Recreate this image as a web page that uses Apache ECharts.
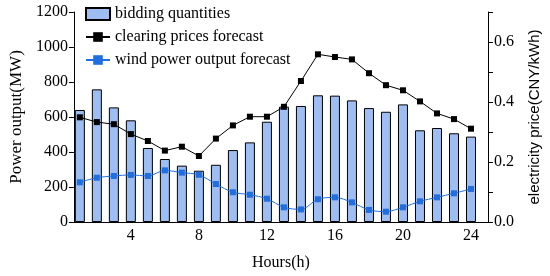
<!DOCTYPE html>
<html>
<head>
<meta charset="utf-8">
<script src="https://cdn.jsdelivr.net/npm/echarts@6/dist/echarts.min.js"></script>
<style>
  html, body { margin: 0; padding: 0; background: #fff; }
  #chart { width: 550px; height: 276px; }
</style>
</head>
<body>
<div id="chart"></div>
<script>
// hours 1..24
const hours = [1, 2, 3, 4, 5, 6, 7, 8, 9, 10, 11, 12, 13, 14, 15, 16, 17, 18, 19, 20, 21, 22, 23, 24]
const hourTicks = [4, 8, 12, 16, 20, 24]

// MW
const biddingQuantities = [640, 758, 655, 581, 423, 360, 322, 293, 327, 411, 455, 573,
  659, 663, 724, 722, 695, 651, 630, 672, 524, 537, 507, 488]
const windForecast = [227, 253, 263, 269, 263, 295, 282, 270, 217, 170, 156, 133,
  84, 72, 130, 141, 112, 69, 59, 84, 118, 141, 164, 189]

// CNY/kWh
const clearingPrices = [0.349, 0.333, 0.326, 0.293, 0.270, 0.238, 0.251, 0.220, 0.278, 0.322, 0.351, 0.351,
  0.384, 0.470, 0.559, 0.550, 0.542, 0.496, 0.456, 0.439, 0.402, 0.362, 0.343, 0.311]
const priceLabels = [0, 0.2, 0.4, 0.6]

const serif = 'Liberation Serif'
const pair = (vals) => hours.map((h, i) => [h, vals[i]])

const chart = echarts.init(document.getElementById('chart'))
chart.setOption({
  animation: false,
  textStyle: { fontFamily: serif },
  grid: { left: 67, right: 59, top: 12, bottom: 54 },
  legend: {
    orient: 'vertical',
    left: 80,
    top: 1,
    itemWidth: 24,
    itemHeight: 12,
    itemGap: 7,
    textStyle: { fontFamily: serif, fontSize: 16, color: '#000' },
    data: [
      { name: 'bidding quantities', icon: 'rect' },
      'clearing prices forecast',
      'wind power output forecast'
    ]
  },
  xAxis: {
    type: 'value',
    min: 0.65,
    max: 25,
    name: 'Hours(h)',
    nameLocation: 'middle',
    nameGap: 33,
    nameTextStyle: { fontFamily: serif, fontSize: 16, color: '#000' },
    splitLine: { show: false },
    axisLine: { lineStyle: { color: '#000', width: 1 } },
    axisTick: { inside: true, length: 3, customValues: hourTicks, lineStyle: { color: '#000' } },
    axisLabel: { customValues: hourTicks, fontSize: 16, color: '#000', margin: 6 }
  },
  yAxis: [
    {
      type: 'value',
      min: 0,
      max: 1200,
      interval: 200,
      name: 'Power output(MW)',
      nameLocation: 'middle',
      nameGap: 41,
      nameTextStyle: { fontFamily: serif, fontSize: 17, color: '#000' },
      splitLine: { show: false },
      axisLine: { show: true, lineStyle: { color: '#000' } },
      axisTick: { show: true, length: 5, lineStyle: { color: '#000' } },
      axisLabel: { formatter: (v) => String(v), fontSize: 16, color: '#000', margin: 6 }
    },
    {
      type: 'value',
      min: 0,
      max: 0.7,
      interval: 0.1,
      name: 'electricity price(CNY/kWh)',
      nameLocation: 'middle',
      nameGap: 39,
      nameTextStyle: { fontFamily: 'Liberation Sans', fontSize: 15, color: '#000' },
      splitLine: { show: false },
      axisLine: { show: true, lineStyle: { color: '#000' } },
      axisTick: { show: true, length: 5, lineStyle: { color: '#000' } },
      axisLabel: {
        customValues: priceLabels,
        formatter: (v) => v.toFixed(1),
        fontSize: 16, color: '#000', margin: 6
      }
    }
  ],
  series: [
    {
      name: 'bidding quantities',
      type: 'bar',
      yAxisIndex: 0,
      barWidth: 10,
      data: pair(biddingQuantities),
      itemStyle: { color: '#9ebdf3', borderColor: '#000', borderWidth: 1 }
    },
    {
      name: 'clearing prices forecast',
      type: 'line',
      yAxisIndex: 1,
      data: pair(clearingPrices),
      symbol: 'rect',
      symbolSize: 6,
      lineStyle: { color: '#000', width: 1 },
      itemStyle: { color: '#000' },
      z: 5
    },
    {
      name: 'wind power output forecast',
      type: 'line',
      yAxisIndex: 0,
      data: pair(windForecast),
      smooth: 0.3,
      symbol: 'rect',
      symbolSize: 6,
      lineStyle: { color: '#1f6fe0', width: 1 },
      itemStyle: { color: '#1f6fe0' },
      z: 5
    }
  ]
})
</script>
</body>
</html>
